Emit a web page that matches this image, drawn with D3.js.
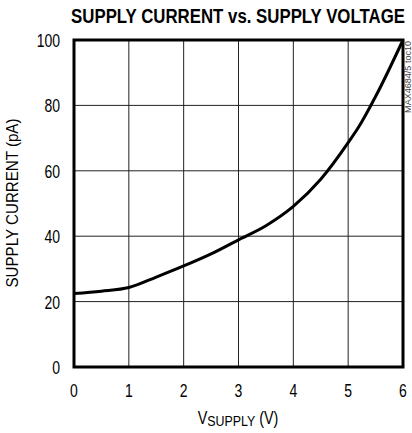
<!DOCTYPE html>
<html><head><meta charset="utf-8">
<script src="https://cdn.jsdelivr.net/npm/d3@7"></script>
<style>
html,body{margin:0;padding:0;background:#fff;}
svg{display:block;}
text{font-family:"Liberation Sans",Arial,sans-serif;fill:#000;}
</style></head>
<body>
<svg id="chart" width="412" height="433"></svg>
<script>
const voltage = [0, 0.5, 1, 1.5, 2, 2.5, 3, 3.5, 4, 4.5, 5, 5.2, 5.5, 6];
const current = [22.5, 23.2, 24.3, 27.5, 30.9, 34.6, 38.9, 43.2, 49.1, 57.4, 68.6, 73.6, 82.7, 100];
const xTicks = [0, 1, 2, 3, 4, 5, 6];
const yTicks = [0, 20, 40, 60, 80, 100];
const title = "SUPPLY CURRENT vs. SUPPLY VOLTAGE";
const yLabel = "SUPPLY CURRENT (pA)";
const watermark = "MAX4684/5 toc10";

const svg = d3.select("#chart");
const m = {left: 74, right: 403, top: 40, bottom: 367};
const x = d3.scaleLinear().domain([0, 6]).range([m.left, m.right]);
const y = d3.scaleLinear().domain([0, 100]).range([m.bottom, m.top]);
const SX = 0.8;

// fit a text horizontally to a target width with a scale transform
function fit(sel, cx, cy, width, rot) {
  const w = sel.node().getComputedTextLength();
  const s = width / w;
  sel.attr("transform", `translate(${cx},${cy}) rotate(${rot || 0}) scale(${s},1)`);
}

// grid
svg.append("g").selectAll("line").data(xTicks.slice(1, -1)).join("line")
  .attr("x1", d => x(d)).attr("x2", d => x(d)).attr("y1", m.top).attr("y2", m.bottom)
  .attr("stroke", "#222").attr("stroke-width", 1);
svg.append("g").selectAll("line").data(yTicks.slice(1, -1)).join("line")
  .attr("y1", d => y(d)).attr("y2", d => y(d)).attr("x1", m.left).attr("x2", m.right)
  .attr("stroke", "#222").attr("stroke-width", 1);

// curve
const line = d3.line().x(d => x(d[0])).y(d => y(d[1])).curve(d3.curveMonotoneX);
svg.append("path").datum(voltage.map((v, i) => [v, current[i]]))
  .attr("d", line).attr("fill", "none").attr("stroke", "#000").attr("stroke-width", 3)
  .attr("stroke-linejoin", "round");

// frame
svg.append("rect").attr("x", m.left).attr("y", m.top)
  .attr("width", m.right - m.left).attr("height", m.bottom - m.top)
  .attr("fill", "none").attr("stroke", "#000").attr("stroke-width", 3);

// tick labels
svg.append("g").selectAll("text").data(xTicks).join("text")
  .attr("transform", d => `translate(${x(d)},397) scale(${SX},1)`).attr("text-anchor", "middle")
  .attr("font-size", 17.5).text(d => d);
svg.append("g").selectAll("text").data(yTicks).join("text")
  .attr("transform", d => `translate(60,${y(d) + 7}) scale(${SX},1)`).attr("text-anchor", "end")
  .attr("font-size", 17.5).text(d => d);

// title
const t = svg.append("text").attr("text-anchor", "middle")
  .attr("font-size", 21).attr("font-weight", "bold").text(title);
fit(t, 238, 23, 334);

// y label
const yl = svg.append("text").attr("text-anchor", "middle").attr("font-size", 16.5).text(yLabel);
fit(yl, 18, 203, 169, -90);

// x label
const xl = svg.append("text").attr("transform", `translate(238,424) scale(${SX},1)`)
  .attr("text-anchor", "middle").attr("font-size", 18);
xl.append("tspan").text("V");
xl.append("tspan").attr("font-size", 15.5).attr("dy", 1.5).text("SUPPLY");
xl.append("tspan").attr("dy", -1.5).text(" (V)");

// watermark
const wm = svg.append("text").attr("text-anchor", "end").attr("font-size", 9)
  .style("fill", "#444").text(watermark);
fit(wm, 411, 41, 72, -90);
</script>
</body></html>
